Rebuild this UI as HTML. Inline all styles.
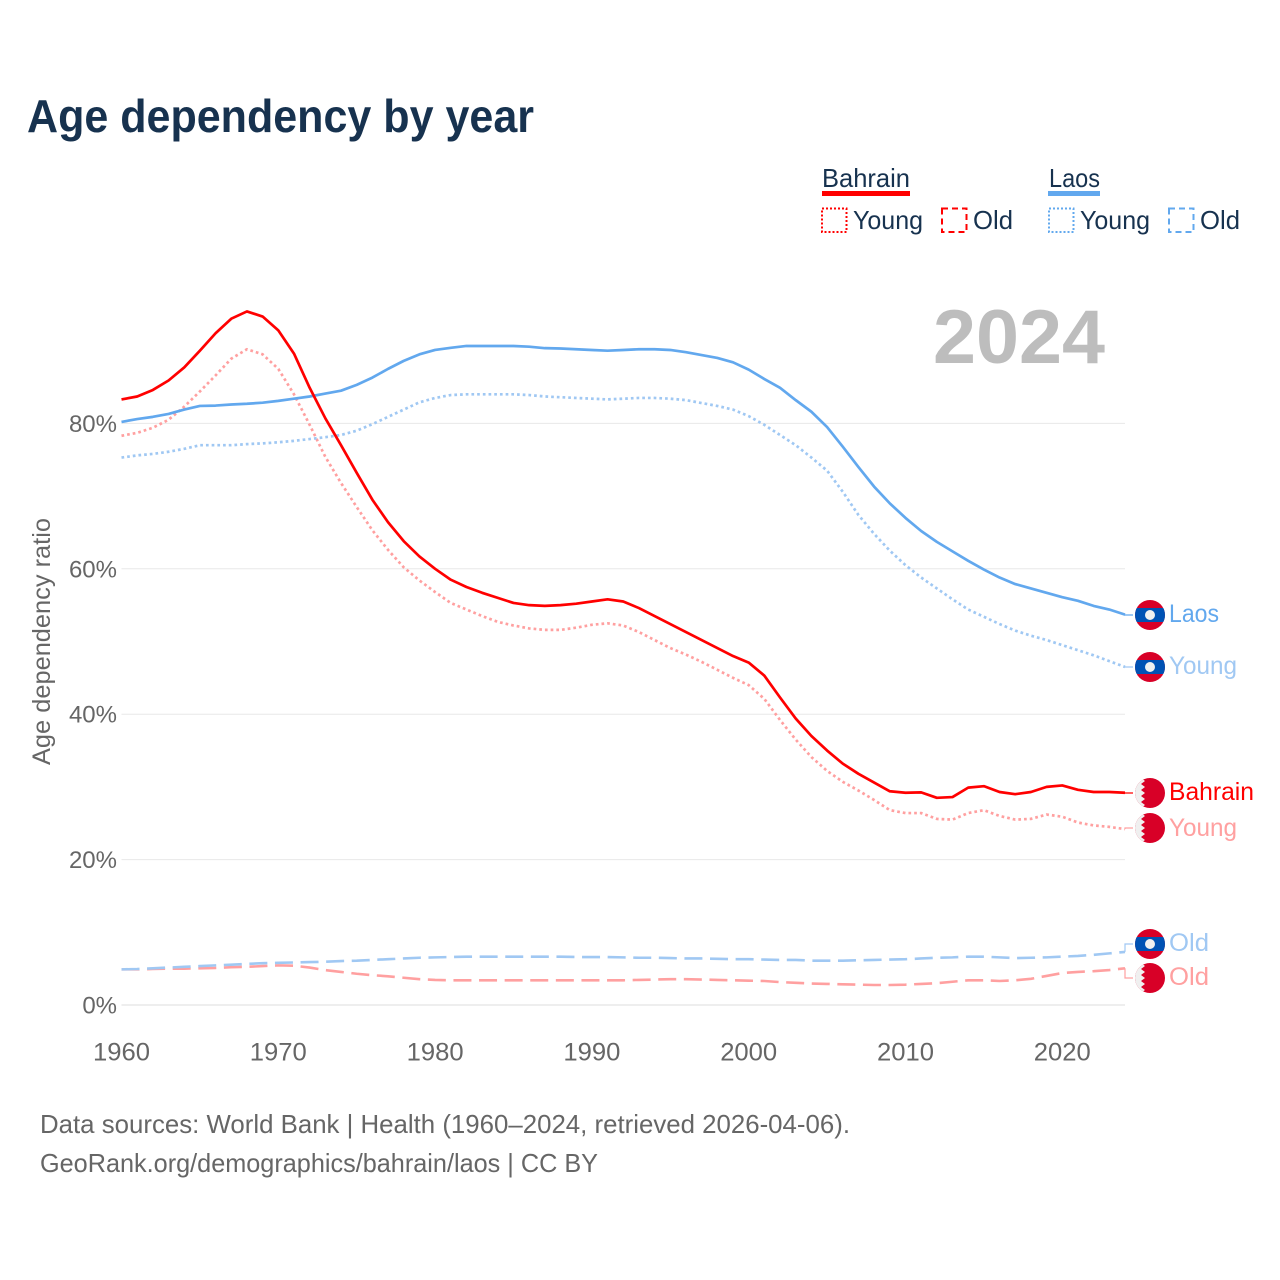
<!DOCTYPE html>
<html lang="en">
<head>
<meta charset="utf-8">
<title>Age dependency by year</title>
<style>
html,body{margin:0;padding:0;background:#fff;}
svg{display:block;font-family:"Liberation Sans",sans-serif;}
</style>
</head>
<body>
<svg id="chart" width="1280" height="1280" viewBox="0 0 1280 1280" xmlns="http://www.w3.org/2000/svg">
  <defs>
    <clipPath id="flag-clip"><circle cx="0" cy="0" r="15"></circle></clipPath>
  </defs>
  <rect width="1280" height="1280" fill="#ffffff"></rect>
  <text x="27" y="132" font-size="46" font-weight="700" fill="#17324f" textLength="507" lengthAdjust="spacingAndGlyphs">Age dependency by year</text>

  <g font-size="26" fill="#17324f">
    <text x="822" y="187" textLength="88" lengthAdjust="spacingAndGlyphs">Bahrain</text>
    <rect x="822" y="191" width="88" height="5" fill="#ff0000"></rect>
    <rect x="822" y="208.500" width="24.500" height="23.500" fill="none" stroke="#ff0000" stroke-width="2" stroke-dasharray="2 2"></rect>
    <text x="853" y="229" textLength="70" lengthAdjust="spacingAndGlyphs">Young</text>
    <rect x="942" y="208.500" width="24.500" height="23.500" fill="none" stroke="#ff0000" stroke-width="2" stroke-dasharray="6 4"></rect>
    <text x="973" y="229" textLength="40" lengthAdjust="spacingAndGlyphs">Old</text>
    <text x="1049" y="187" textLength="51" lengthAdjust="spacingAndGlyphs">Laos</text>
    <rect x="1048" y="191" width="52" height="5" fill="#62a8ee"></rect>
    <rect x="1049" y="208.500" width="24.500" height="23.500" fill="none" stroke="#62a8ee" stroke-width="2" stroke-dasharray="2 2"></rect>
    <text x="1080" y="229" textLength="70" lengthAdjust="spacingAndGlyphs">Young</text>
    <rect x="1169" y="208.500" width="24.500" height="23.500" fill="none" stroke="#62a8ee" stroke-width="2" stroke-dasharray="6 4"></rect>
    <text x="1200" y="229" textLength="40" lengthAdjust="spacingAndGlyphs">Old</text>
  </g>

  <g id="grid"></g>
  <g id="y-ticks"></g>
  <g id="x-ticks"></g>
  <text transform="translate(50,765) rotate(-90)" font-size="25" fill="#666666" textLength="247" lengthAdjust="spacingAndGlyphs">Age dependency ratio</text>
  <text x="933" y="363" font-size="76" font-weight="700" fill="#bdbdbd" textLength="172" lengthAdjust="spacingAndGlyphs">2024</text>

  <g id="series"></g>
  <g id="end-labels"></g>

  <text x="40" y="1133" font-size="26" fill="#666666" textLength="810" lengthAdjust="spacingAndGlyphs">Data sources: World Bank | Health (1960–2024, retrieved 2026-04-06).</text>
  <text x="40" y="1172" font-size="26" fill="#666666" textLength="558" lengthAdjust="spacingAndGlyphs">GeoRank.org/demographics/bahrain/laos | CC BY</text>
</svg>
<script>
const startYear = 1960;
const endYear = 2024;
const yTickValues = [0, 20, 40, 60, 80];
const yTickLabels = ["0%", "20%", "40%", "60%", "80%"];
const xTickValues = [1960, 1970, 1980, 1990, 2000, 2010, 2020];
const xTickLabels = ["1960", "1970", "1980", "1990", "2000", "2010", "2020"];

const bahrainTotal = [
  83.3,83.7,84.6,85.9,87.7,90.0,92.4,94.4,95.4,94.7,
  92.8,89.6,84.9,80.7,77.0,73.2,69.5,66.4,63.8,61.7,
  60.0,58.5,57.5,56.7,56.0,55.3,55.0,54.9,55.0,55.2,
  55.5,55.8,55.5,54.6,53.5,52.4,51.3,50.2,49.1,48.0,
  47.1,45.3,42.3,39.4,37.0,35.0,33.2,31.8,30.6,29.4,
  29.2,29.25,28.5,28.6,29.9,30.1,29.3,29.0,29.3,30.0,
  30.2,29.6,29.3,29.3,29.2
];
const bahrainYoung = [
  78.3,78.7,79.4,80.5,82.3,84.4,86.6,88.9,90.2,89.5,
  87.5,84.0,79.8,75.4,71.8,68.5,65.3,62.6,60.2,58.4,
  56.8,55.3,54.4,53.5,52.7,52.2,51.8,51.6,51.6,51.9,
  52.3,52.5,52.2,51.3,50.2,49.1,48.2,47.2,46.1,45.0,
  44.0,42.1,39.2,36.5,34.1,32.2,30.7,29.5,28.2,26.8,
  26.4,26.4,25.6,25.5,26.4,26.8,26.0,25.5,25.6,26.2,
  25.9,25.1,24.7,24.5,24.2
];
const bahrainOld = [
  4.9,4.9,4.95,5.0,5.0,5.05,5.1,5.2,5.25,5.35,
  5.45,5.4,5.15,4.8,4.55,4.3,4.1,3.95,3.75,3.55,
  3.45,3.4,3.4,3.4,3.4,3.4,3.4,3.4,3.4,3.4,
  3.4,3.4,3.4,3.45,3.5,3.55,3.55,3.5,3.45,3.4,
  3.35,3.3,3.15,3.05,2.95,2.9,2.85,2.8,2.75,2.75,
  2.8,2.9,3.0,3.2,3.4,3.4,3.3,3.4,3.6,4.0,
  4.4,4.55,4.65,4.8,5.05
];
const laosTotal = [
  80.2,80.6,80.9,81.3,81.9,82.4,82.45,82.6,82.7,82.85,
  83.1,83.4,83.7,84.1,84.5,85.3,86.3,87.5,88.6,89.5,
  90.1,90.4,90.65,90.65,90.65,90.65,90.55,90.35,90.3,90.2,
  90.1,90.0,90.1,90.2,90.2,90.1,89.8,89.4,89.0,88.4,
  87.4,86.1,84.9,83.2,81.6,79.5,76.8,74.0,71.3,69.0,
  67.0,65.2,63.7,62.4,61.1,59.9,58.8,57.9,57.3,56.7,
  56.1,55.6,54.9,54.4,53.7
];
const laosYoung = [
  75.3,75.6,75.8,76.1,76.5,77.0,77.0,77.0,77.15,77.25,
  77.4,77.6,77.85,78.1,78.4,79.0,79.9,80.9,81.9,82.9,
  83.5,83.9,84.0,84.0,84.0,84.0,83.9,83.7,83.6,83.5,
  83.4,83.3,83.4,83.5,83.5,83.4,83.2,82.8,82.4,81.9,
  81.0,79.8,78.4,77.0,75.3,73.5,70.6,67.4,64.8,62.5,
  60.5,58.8,57.3,55.8,54.4,53.4,52.4,51.5,50.8,50.2,
  49.5,48.8,48.1,47.3,46.5
];
const laosOld = [
  4.9,4.95,5.05,5.15,5.25,5.35,5.45,5.55,5.65,5.75,
  5.8,5.85,5.9,5.95,6.05,6.1,6.2,6.3,6.4,6.5,
  6.55,6.6,6.65,6.65,6.65,6.65,6.65,6.65,6.65,6.6,
  6.6,6.6,6.55,6.5,6.5,6.45,6.4,6.4,6.35,6.3,
  6.3,6.25,6.2,6.2,6.1,6.1,6.1,6.15,6.2,6.25,
  6.3,6.4,6.5,6.55,6.65,6.65,6.55,6.45,6.5,6.55,
  6.65,6.75,6.9,7.1,7.3
];

const NS = "http://www.w3.org/2000/svg";
const plot = { left: 121.5, right: 1125, zeroY: 1005, pxPerUnit: 7.27 };
function xScale(year) {
  return plot.left + (year - startYear) * (plot.right - plot.left) / (endYear - startYear);
}
function yScale(value) {
  return plot.zeroY - value * plot.pxPerUnit;
}
function make(tag, parent, attrs, text) {
  const el = document.createElementNS(NS, tag);
  for (const key in attrs) el.setAttribute(key, attrs[key]);
  if (text !== undefined) el.textContent = text;
  parent.appendChild(el);
  return el;
}
function pathFrom(values) {
  return values.map(function (v, i) {
    return (i ? "L" : "M") + xScale(startYear + i).toFixed(2) + " " + yScale(v).toFixed(2);
  }).join("");
}

const gridGroup = document.getElementById("grid");
const yTickGroup = document.getElementById("y-ticks");
yTickValues.forEach(function (v, i) {
  const line = make("line", gridGroup, { x1: plot.left, x2: plot.right, y1: yScale(v), y2: yScale(v), stroke: v === 0 ? "#eeeeee" : "#e8e8e8", "stroke-width": v === 0 ? 2 : 1 });
  
  
  const label = make("text", yTickGroup, { x: 117, y: yScale(v) + 8.5, "text-anchor": "end", "font-size": 24, fill: "#666666" }, yTickLabels[i]);
  
  
});

const xTickGroup = document.getElementById("x-ticks");
xTickValues.forEach(function (year, i) {
  const label = make("text", xTickGroup, { x: xScale(year), y: 1060.5, "text-anchor": "middle", "font-size": 25, fill: "#666666", textLength: 57, lengthAdjust: "spacingAndGlyphs" }, xTickLabels[i]);
  
  
});

const seriesGroup = document.getElementById("series");
const dotted = "2.7 3";
const dashed = "18 7.6";
const seriesList = [
  { key: "bahrain-old", values: bahrainOld, color: "#ffa0a0", width: 2.6, dash: dashed, flag: "bahrain", flagY: 978, label: "Old", labelY: 985 },
  { key: "laos-old", values: laosOld, color: "#a0c8f3", width: 2.6, dash: dashed, flag: "laos", flagY: 944, label: "Old", labelY: 951 },
  { key: "bahrain-young", values: bahrainYoung, color: "#ffa0a0", width: 2.7, dash: dotted, flag: "bahrain", flagY: 828, label: "Young", labelY: 836 },
  { key: "laos-young", values: laosYoung, color: "#a0c8f3", width: 2.7, dash: dotted, flag: "laos", flagY: 667, label: "Young", labelY: 674 },
  { key: "laos-total", values: laosTotal, color: "#62a8ee", width: 2.7, dash: "", flag: "laos", flagY: 615, label: "Laos", labelY: 622 },
  { key: "bahrain-total", values: bahrainTotal, color: "#ff0000", width: 2.7, dash: "", flag: "bahrain", flagY: 793, label: "Bahrain", labelY: 800 }
];
const labelWidths = { "Old": 40, "Young": 68, "Laos": 50, "Bahrain": 85 };

seriesList.forEach(function (s) {
  const line = make("path", seriesGroup, { d: pathFrom(s.values), fill: "none", stroke: s.color, "stroke-width": s.width, "stroke-linejoin": "round" });
  if (s.dash) line.setAttribute("stroke-dasharray", s.dash);
  
  
  line.setAttribute("data-series", s.key);
});

const endGroup = document.getElementById("end-labels");
function drawLaosFlag(g) {
  make("rect", g, { x: -15, y: -15, width: 30, height: 30, fill: "#d80027" });
  make("rect", g, { x: -15, y: -7, width: 30, height: 14, fill: "#0052b4" });
  make("circle", g, { cx: 0, cy: 0, r: 5, fill: "#f0f0f0" });
}
function drawBahrainFlag(g) {
  make("rect", g, { x: -15, y: -15, width: 30, height: 30, fill: "#d80027" });
  let d = "M-15 -15L-9 -15";
  const teeth = 5;
  for (let i = 0; i < teeth; i++) {
    const top = -15 + i * 6;
    d += "L-5 " + (top + 3) + "L-9 " + (top + 6);
  }
  d += "L-15 15Z";
  make("path", g, { d: d, fill: "#f0f0f0" });
}
seriesList.forEach(function (s) {
  const last = s.values[s.values.length - 1];
  const endY = yScale(last);
  const leader = make("path", endGroup, { d: "M" + plot.right + " " + endY.toFixed(2) + "L" + plot.right + " " + s.flagY + "L1133 " + s.flagY, fill: "none", stroke: s.color, "stroke-width": 1.2 });
  
  
  const flag = make("g", endGroup, { transform: "translate(1150," + s.flagY + ")", "clip-path": "url(#flag-clip)" });
  
  
  if (s.flag === "laos") drawLaosFlag(flag); else drawBahrainFlag(flag);
  const label = make("text", endGroup, { x: 1169, y: s.labelY, "font-size": 25, fill: s.color, textLength: labelWidths[s.label], lengthAdjust: "spacingAndGlyphs" }, s.label);
  
  
});
</script>
</body>
</html>
